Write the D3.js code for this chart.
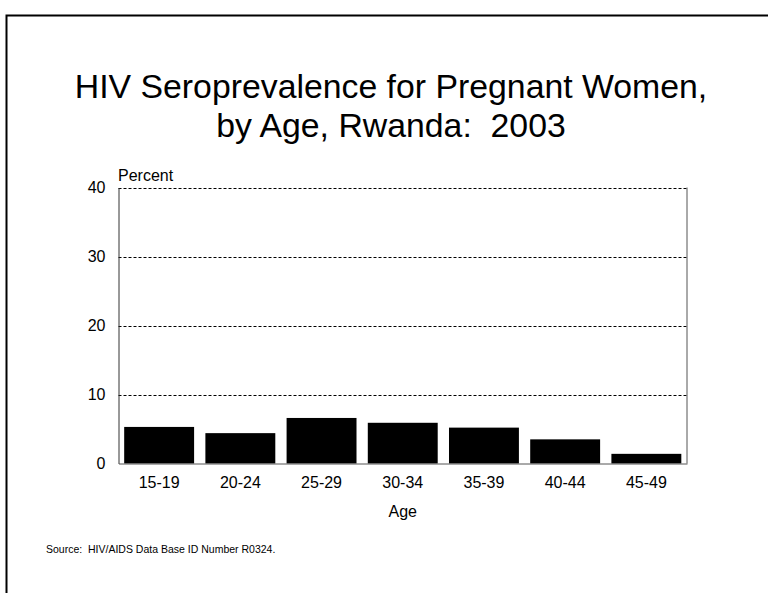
<!DOCTYPE html>
<html>
<head>
<meta charset="utf-8">
<script src="https://cdn.jsdelivr.net/npm/d3@7"></script>
<style>
  html, body { margin: 0; padding: 0; background: #fff; }
  svg { display: block; font-family: "Liberation Sans", Arial, sans-serif; }
  text { white-space: pre; }
</style>
</head>
<body>
<svg id="chart" width="768" height="593"></svg>
<script>
const categories = ["15-19", "20-24", "25-29", "30-34", "35-39", "40-44", "45-49"];
const values = [5.3, 4.4, 6.6, 5.9, 5.2, 3.5, 1.4];
const yTicks = [0, 10, 20, 30, 40];
const titleLines = ["HIV Seroprevalence for Pregnant Women,", "by Age, Rwanda:  2003"];
const yLabel = "Percent";
const xLabel = "Age";
const sourceText = "Source:  HIV/AIDS Data Base ID Number R0324.";

(function () {
const svg = d3.select("#chart");

// outer frame (extends past right and bottom edges)
svg.append("rect")
  .attr("x", 6.5).attr("y", 15.5)
  .attr("width", 800).attr("height", 620)
  .attr("fill", "none").attr("stroke", "#000").attr("stroke-width", 2);

const pLeft = 118.5, pRight = 687, pTop = 187.5, pBottom = 463.5;

const x = d3.scaleBand().domain(categories).range([pLeft, pRight])
  .paddingInner(0.139).paddingOuter(0.07);
const y = d3.scaleLinear().domain([0, 40]).range([pBottom, pTop]);

// title
svg.append("g").selectAll("text").data(titleLines).join("text")
  .attr("x", 391).attr("y", (d, i) => 98 + i * 39)
  .attr("text-anchor", "middle")
  .attr("xml:space", "preserve")
  .attr("font-size", 33.8)
  .attr("fill", "#000")
  .text(d => d);

// gridlines (dashed) at non-zero ticks
svg.append("g").selectAll("line").data(yTicks.filter(t => t > 0)).join("line")
  .attr("x1", pLeft).attr("x2", pRight)
  .attr("y1", d => Math.round(y(d)) + 0.5).attr("y2", d => Math.round(y(d)) + 0.5)
  .attr("stroke", "#000").attr("stroke-width", 1)
  .attr("stroke-dasharray", "3,2");

// right border
svg.append("line")
  .attr("x1", pRight).attr("x2", pRight).attr("y1", pTop).attr("y2", pBottom)
  .attr("stroke", "#555").attr("stroke-width", 1);

// bars
svg.append("g").selectAll("rect").data(values).join("rect")
  .attr("x", (d, i) => x(categories[i]))
  .attr("width", x.bandwidth())
  .attr("y", d => y(d))
  .attr("height", d => y(0) - y(d))
  .attr("fill", "#000");

// y axis
const yAxis = svg.append("g")
  .attr("transform", `translate(${pLeft},0)`)
  .call(d3.axisLeft(y).tickValues(yTicks).tickSize(0).tickPadding(13).tickFormat(d3.format("d")));
yAxis.select(".domain").attr("stroke", "#333");
yAxis.selectAll("text").attr("font-size", 16).attr("fill", "#000")
  .attr("font-family", "Liberation Sans, Arial, sans-serif");

// x axis
const xAxis = svg.append("g")
  .attr("transform", `translate(0,${pBottom})`)
  .call(d3.axisBottom(x).tickSize(0).tickPadding(13));
xAxis.select(".domain").attr("stroke", "#555");
xAxis.selectAll("text").attr("font-size", 16).attr("fill", "#000")
  .attr("font-family", "Liberation Sans, Arial, sans-serif");

// axis titles
svg.append("text")
  .attr("x", pLeft - 0.5).attr("y", 180.5)
  .attr("font-size", 16).attr("fill", "#000")
  .text(yLabel);

svg.append("text")
  .attr("x", (pLeft + pRight) / 2).attr("y", 516.5)
  .attr("text-anchor", "middle")
  .attr("font-size", 16).attr("fill", "#000")
  .text(xLabel);

// source
svg.append("text")
  .attr("x", 46).attr("y", 552.5)
  .attr("xml:space", "preserve")
  .attr("font-size", 10.5).attr("fill", "#000")
  .text(sourceText);
})();
</script>
</body>
</html>
